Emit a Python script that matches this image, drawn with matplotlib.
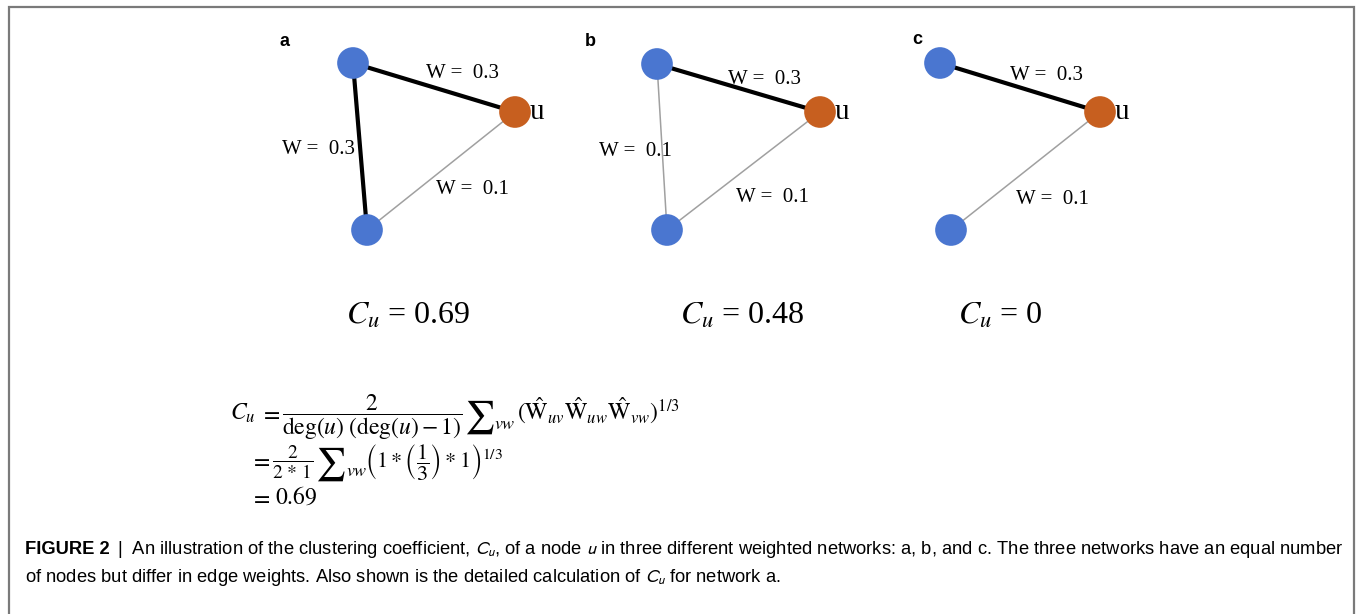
import matplotlib
matplotlib.use('Agg')
import matplotlib.pyplot as plt

# node positions (pixel space) for the three small networks
nets = ['a', 'b', 'c']
letter_xy = [(284, 42), (590, 42), (917, 40)]
v_top = [(353, 63), (657, 64), (940, 63)]
v_bot = [(367, 230), (667, 230), (951, 230)]
u_node = [(515, 112), (820, 112), (1100, 112)]

# edge weights: top-u, top-bottom, bottom-u (None = no edge)
w_top_u = [0.3, 0.3, 0.3]
w_top_bot = [0.3, 0.1, None]
w_bot_u = [0.1, 0.1, 0.1]

# label anchors for each edge weight
lab_top_u = [(463, 74), (765, 79), (1047, 76)]
lab_top_bot = [(318, 150), (635, 152), None]
lab_bot_u = [(472, 190), (772, 197), (1052, 200)]

cu_values = ['0.69', '0.48', '0']
cu_x = [408, 742, 1000]

BLUE = '#4a76d0'
ORANGE = '#c75f1f'

fig = plt.figure(figsize=(13.57, 6.14), dpi=100)
ax = fig.add_axes([0, 0, 1, 1])
ax.set_xlim(0, 1357)
ax.set_ylim(614, 0)
ax.axis('off')
renderer = fig.canvas.get_renderer()

# open frame round the panel
ax.plot([9, 9, 1354, 1354], [614, 7, 7, 614], color='#7a7a7a', lw=1.6,
        solid_joinstyle='miter')


def edge(p, q, w):
    if w is None:
        return
    if w >= 0.3:
        ax.plot([p[0], q[0]], [p[1], q[1]], color='black', lw=3.0, zorder=2)
    else:
        ax.plot([p[0], q[0]], [p[1], q[1]], color='#a0a0a0', lw=1.1, zorder=2)


for i in range(3):
    edge(v_top[i], u_node[i], w_top_u[i])
    edge(v_top[i], v_bot[i], w_top_bot[i])
    edge(v_bot[i], u_node[i], w_bot_u[i])
    for w, pos in [(w_top_u[i], lab_top_u[i]), (w_top_bot[i], lab_top_bot[i]),
                   (w_bot_u[i], lab_bot_u[i])]:
        if w is None:
            continue
        ax.text(pos[0], pos[1], f'W =  {w}', fontsize=15, family='Liberation Serif',
                ha='center', va='center', zorder=3)
    ax.scatter([v_top[i][0], v_bot[i][0]], [v_top[i][1], v_bot[i][1]], s=520,
               color=BLUE, edgecolors='none', zorder=4)
    ax.scatter([u_node[i][0]], [u_node[i][1]], s=520, color=ORANGE,
               edgecolors='none', zorder=4)
    ax.text(u_node[i][0] + 15, u_node[i][1], 'u', fontsize=21, family='Liberation Serif',
            ha='left', va='center')
    ax.text(letter_xy[i][0], letter_xy[i][1], nets[i], fontsize=13, fontweight='bold',
            family='Liberation Sans', ha='center', va='center')
    ax.text(cu_x[i], 316, r'$C_u$' + ' = ' + cu_values[i], fontsize=23,
            family='Liberation Serif', math_fontfamily='stix', ha='center', va='center')


def math_row(x, y, parts):
    # lay out pieces of a formula left to right on a common baseline
    for s, size, dy, gap in parts:
        t = ax.text(x, y + dy, s, fontsize=size, math_fontfamily='stix',
                    ha='left', va='baseline')
        x += t.get_window_extent(renderer).width + gap


SUM = r'$\sum$'
# worked calculation for network a
math_row(230, 420, [
    (r'$C_u$', 17, 0, 4),
    (r'$=$', 17, 0, 2),
    (r'$\dfrac{2}{\mathrm{deg}(u)\;(\mathrm{deg}(u) - 1)}$', 17, 0, 1),
    (SUM, 24, 6, 0),
    (r'$vw$', 13, 9, 1),
    (r'$(\hat{\mathrm{W}}_{uv}\hat{\mathrm{W}}_{uw}\hat{\mathrm{W}}_{vw})^{1/3}$', 17, 0, 0),
])
math_row(250, 467, [
    (r'$=$', 17, 0, 2),
    (r'$\dfrac{2}{2\,*\,1}$', 14, 0, 1),
    (SUM, 24, 6, 0),
    (r'$vw$', 13, 9, -2),
    (r'$\left(1 * \left(\dfrac{1}{3}\right) * 1\right)^{1/3}$', 16, 0, 0),
])
math_row(250, 504, [
    (r'$=$', 17, 0, 5),
    (r'$0.69$', 17, 0, 0),
])

# caption
cap_font = 'Liberation Sans'
cap_size = 13.2
head = ax.text(25, 549, 'FIGURE 2', fontsize=cap_size, fontweight='bold', family=cap_font,
               ha='left', va='center')
bb = head.get_window_extent(renderer)
bar_x = ax.transData.inverted().transform((bb.x1 + 7, 0))[0]
ax.text(bar_x, 549, '|  An illustration of the clustering coefficient, $C_u$, of a node $u$ in '
        'three different weighted networks: a, b, and c. The three networks have an equal number',
        fontsize=cap_size, family=cap_font, math_fontfamily='stixsans', ha='left', va='center')
ax.text(25, 578, 'of nodes but differ in edge weights. Also shown is the detailed calculation '
        'of $C_u$ for network a.', fontsize=cap_size, family=cap_font,
        math_fontfamily='stixsans', ha='left', va='center')

fig.savefig('out.png', dpi=100)
